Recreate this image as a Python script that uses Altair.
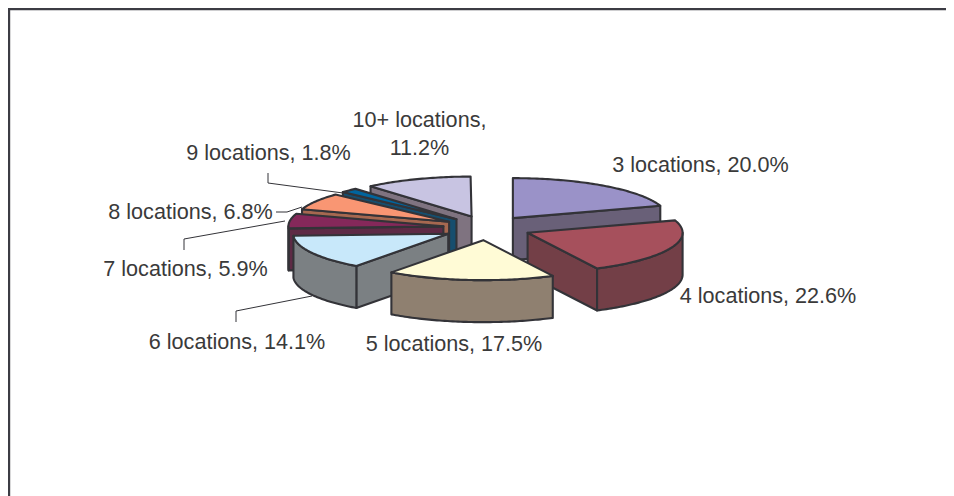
import math
import altair as alt
import pandas as pd

# Chart values
categories = ["3 locations", "4 locations", "5 locations", "6 locations",
              "7 locations", "8 locations", "9 locations", "10+ locations"]
shares = [20.0, 22.6, 17.5, 14.1, 5.9, 6.8, 1.8, 11.2]
top_colors = ["#9A92C8", "#A6505C", "#FFFBD6", "#C8E8FA",
              "#85285A", "#F99673", "#00659E", "#C8C4E2"]
wall_colors = ["#696078", "#733F47", "#8F8070", "#7B8083",
               "#5E2A45", "#A66850", "#164E6E", "#7F7380"]
label_lines = [["3 locations, 20.0%"], ["4 locations, 22.6%"], ["5 locations, 17.5%"],
               ["6 locations, 14.1%"], ["7 locations, 5.9%"], ["8 locations, 6.8%"],
               ["9 locations, 1.8%"], ["10+ locations,", "11.2%"]]

# Layout of the tilted, exploded pie
CX, CY = 487.0, 228.0
RX, RY = 155.0, 40.0
EXPLODE_X, EXPLODE_Y = 44.0, 12.2
DEPTH = 42.0
INK = "#333338"
FONT = "Liberation Sans"
FONT_SIZE = 21.6
draw_order = [7, 0, 6, 5, 4, 3, 1, 2]
label_spots = [(700.5, 165.5), (768, 296.5), (454, 344.5), (237, 342.5),
               (185.5, 269.5), (190.5, 212.5), (268.5, 153.5), (419.5, 120.5)]
leaders = [[(268, 173), (268, 183), (343, 193)],
           [(276, 212), (287, 212), (302, 207)],
           [(184, 250), (184, 239), (285, 221)],
           [(236, 322), (236, 311), (312, 296)]]

x_scale = alt.Scale(domain=[8, 946], range=[0, 938], nice=False, zero=False)
y_scale = alt.Scale(domain=[8, 496], range=[0, 488], nice=False, zero=False)
X = lambda f: alt.X(f, type="quantitative", scale=x_scale, axis=None)
Y = lambda f: alt.Y(f, type="quantitative", scale=y_scale, axis=None)


def rim(ax, ay, deg, drop=0.0):
    t = math.radians(deg)
    return ax + RX * math.sin(t), ay - RY * math.cos(t) + drop


def polygon(points, fill):
    df = pd.DataFrame({"x": [p[0] for p in points], "y": [p[1] for p in points],
                       "seq": list(range(len(points)))})
    return alt.Chart(df).mark_line(
        fill=fill, stroke=INK, strokeWidth=2.1, strokeJoin="round",
        interpolate="linear-closed"
    ).encode(x=X("x"), y=Y("y"), order=alt.Order("seq:Q"))


# angular span of each slice, clockwise from 12 o'clock
spans, running = [], 0.0
for s in shares:
    spans.append((running, running + s * 3.6))
    running += s * 3.6

layers = []
for i in draw_order:
    start, end = spans[i]
    mid = math.radians((start + end) / 2)
    ax = CX + EXPLODE_X * math.sin(mid)
    ay = CY - EXPLODE_Y * math.cos(mid)
    steps = max(2, int(end - start))
    arc = [start + (end - start) * k / steps for k in range(steps + 1)]
    wall = wall_colors[i]
    if 180 < start < 360:
        p = rim(ax, ay, start)
        q = rim(ax, ay, start, DEPTH)
        layers.append(polygon([(ax, ay), p, q, (ax, ay + DEPTH)], wall))
    if 0 < end < 180:
        p = rim(ax, ay, end)
        q = rim(ax, ay, end, DEPTH)
        layers.append(polygon([(ax, ay), p, q, (ax, ay + DEPTH)], wall))
    lo, hi = max(start, 90.0), min(end, 270.0)
    if hi > lo:
        n = max(2, int(hi - lo))
        front = [lo + (hi - lo) * k / n for k in range(n + 1)]
        outer = [rim(ax, ay, d) for d in front] + [rim(ax, ay, d, DEPTH) for d in reversed(front)]
        layers.append(polygon(outer, wall))
    layers.append(polygon([(ax, ay)] + [rim(ax, ay, d) for d in arc], top_colors[i]))

for path in leaders:
    df = pd.DataFrame({"x": [p[0] for p in path], "y": [p[1] for p in path],
                       "seq": list(range(len(path)))})
    layers.append(alt.Chart(df).mark_line(color=INK, strokeWidth=1).encode(
        x=X("x"), y=Y("y"), order=alt.Order("seq:Q")))

rows = []
for lines, (lx, ly) in zip(label_lines, label_spots):
    for k, line in enumerate(lines):
        rows.append({"text": line, "x": lx, "y": ly + 28 * k})
layers.append(alt.Chart(pd.DataFrame(rows)).mark_text(
    font=FONT, fontSize=FONT_SIZE, color="#3A3A3A", align="center", baseline="middle"
).encode(x=X("x"), y=Y("y"), text="text:N"))

# outer frame: top and left edges
frame = pd.DataFrame({"x": [9, 9, 946], "y": [496, 9, 9], "seq": [0, 1, 2]})
layers.append(alt.Chart(frame).mark_line(color="#3C3C44", strokeWidth=2.4).encode(
    x=X("x"), y=Y("y"), order=alt.Order("seq:Q")))

chart = alt.layer(*layers).properties(
    width=938, height=488, padding=0, background="white",
    autosize=alt.AutoSizeParams(type="none")
).configure_view(stroke=None)

chart.save("out.html", embed_options={"renderer": "svg", "actions": False})
